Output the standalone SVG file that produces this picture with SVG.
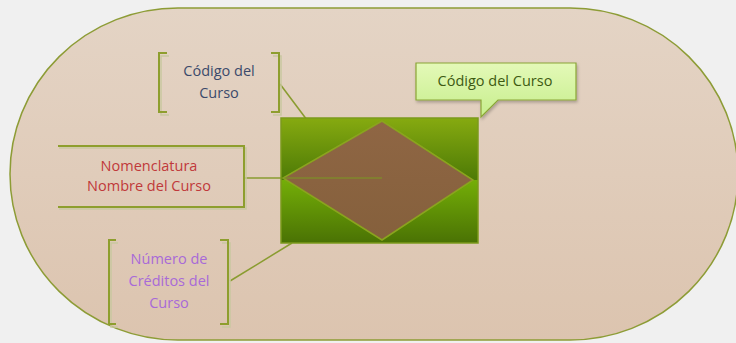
<svg xmlns="http://www.w3.org/2000/svg" width="736" height="343" viewBox="0 0 736 343">
<defs>
<linearGradient id="bg" x1="0" y1="0" x2="0" y2="1"><stop offset="0" stop-color="#e4d4c5"/><stop offset="1" stop-color="#dcc4af"/></linearGradient>
<linearGradient id="gTop" x1="0" y1="0" x2="0" y2="1"><stop offset="0" stop-color="#86aa10"/><stop offset="1" stop-color="#4d7a06"/></linearGradient>
<linearGradient id="gBot" x1="0" y1="0" x2="0" y2="1"><stop offset="0" stop-color="#74ae08"/><stop offset="1" stop-color="#4a7204"/></linearGradient>
<linearGradient id="dia" x1="0" y1="0" x2="0" y2="1"><stop offset="0" stop-color="#8f6644"/><stop offset="1" stop-color="#85603c"/></linearGradient>
<linearGradient id="call" x1="0" y1="0" x2="0" y2="1"><stop offset="0" stop-color="#e4f9b8"/><stop offset="1" stop-color="#c6ee8c"/></linearGradient>
<filter id="sh" x="-10%" y="-10%" width="130%" height="140%"><feDropShadow dx="1" dy="2" stdDeviation="1.5" flood-color="#000" flood-opacity="0.25"/></filter>
</defs>
<style>
.br{fill:none;stroke:#8e9e2e;stroke-width:2}
.brs{fill:none;stroke:#c9c7a0;stroke-width:1.5}
.ln{fill:none;stroke:#8a9c30;stroke-width:1.5}
text{font-family:"Open Sans","Noto Sans",sans-serif;font-size:14.5px;text-anchor:middle}
</style>
<rect width="736" height="343" fill="#f0f0f0"/>
<rect x="10" y="8" width="728" height="332" rx="168" ry="166" fill="url(#bg)" stroke="#8d9c36" stroke-width="1.5"/>

<g id="connectors">
<line class="ln" x1="280" y1="84" x2="316" y2="132"/>
<line class="ln" x1="244" y1="178" x2="283" y2="178"/>
<line class="ln" x1="230" y1="281" x2="292" y2="243"/>
</g>

<g id="entity">
<rect x="281" y="118" width="197" height="62" fill="url(#gTop)"/>
<rect x="281" y="180" width="197" height="63" fill="url(#gBot)"/>
<rect x="281" y="118" width="197" height="125" fill="none" stroke="#7c9a1c" stroke-width="1.5"/>
<polygon points="382,121 473,180 382,240 283,178" fill="url(#dia)" stroke="#8aa41e" stroke-width="1.5"/>
<line x1="283" y1="178" x2="382" y2="178" stroke="#7a9a20" stroke-width="1.2"/>
</g>

<g id="callout">
<path d="M416,63 H576 V100 H498 L481,117 V100 H416 Z" fill="url(#call)" stroke="#8aa636" stroke-width="1.2" filter="url(#sh)"/>
<text x="495" y="86" fill="#3d5a12">Código del Curso</text>
</g>

<g id="codigo">
<path class="brs" d="M168,55 H160 V114 H168 M272,55 H280 V114 H272" transform="translate(1,1)"/>
<path class="br" d="M167,53 H159 V112 H167 M271,53 H279 V112 H271"/>
<text x="219" y="76" fill="#3b4a6b">Código del</text>
<text x="219" y="98" fill="#3b4a6b">Curso</text>
</g>

<g id="nomenclatura">
<path class="brs" d="M59,148 H246 V209 H59"/>
<path class="br" d="M58,146 H244 V207 H58"/>
<text x="149" y="171" fill="#c0393a">Nomenclatura</text>
<text x="149" y="191" fill="#c0393a">Nombre del Curso</text>
</g>

<g id="creditos">
<path class="brs" d="M117,242 H110 V326 H117 M221,242 H229 V326 H221" transform="translate(1,1)"/>
<path class="br" d="M116,240 H109 V324 H116 M220,240 H228 V324 H220"/>
<text x="169" y="264" fill="#a86ad8">Número de</text>
<text x="169" y="286" fill="#a86ad8">Créditos del</text>
<text x="169" y="308" fill="#a86ad8">Curso</text>
</g>
</svg>
